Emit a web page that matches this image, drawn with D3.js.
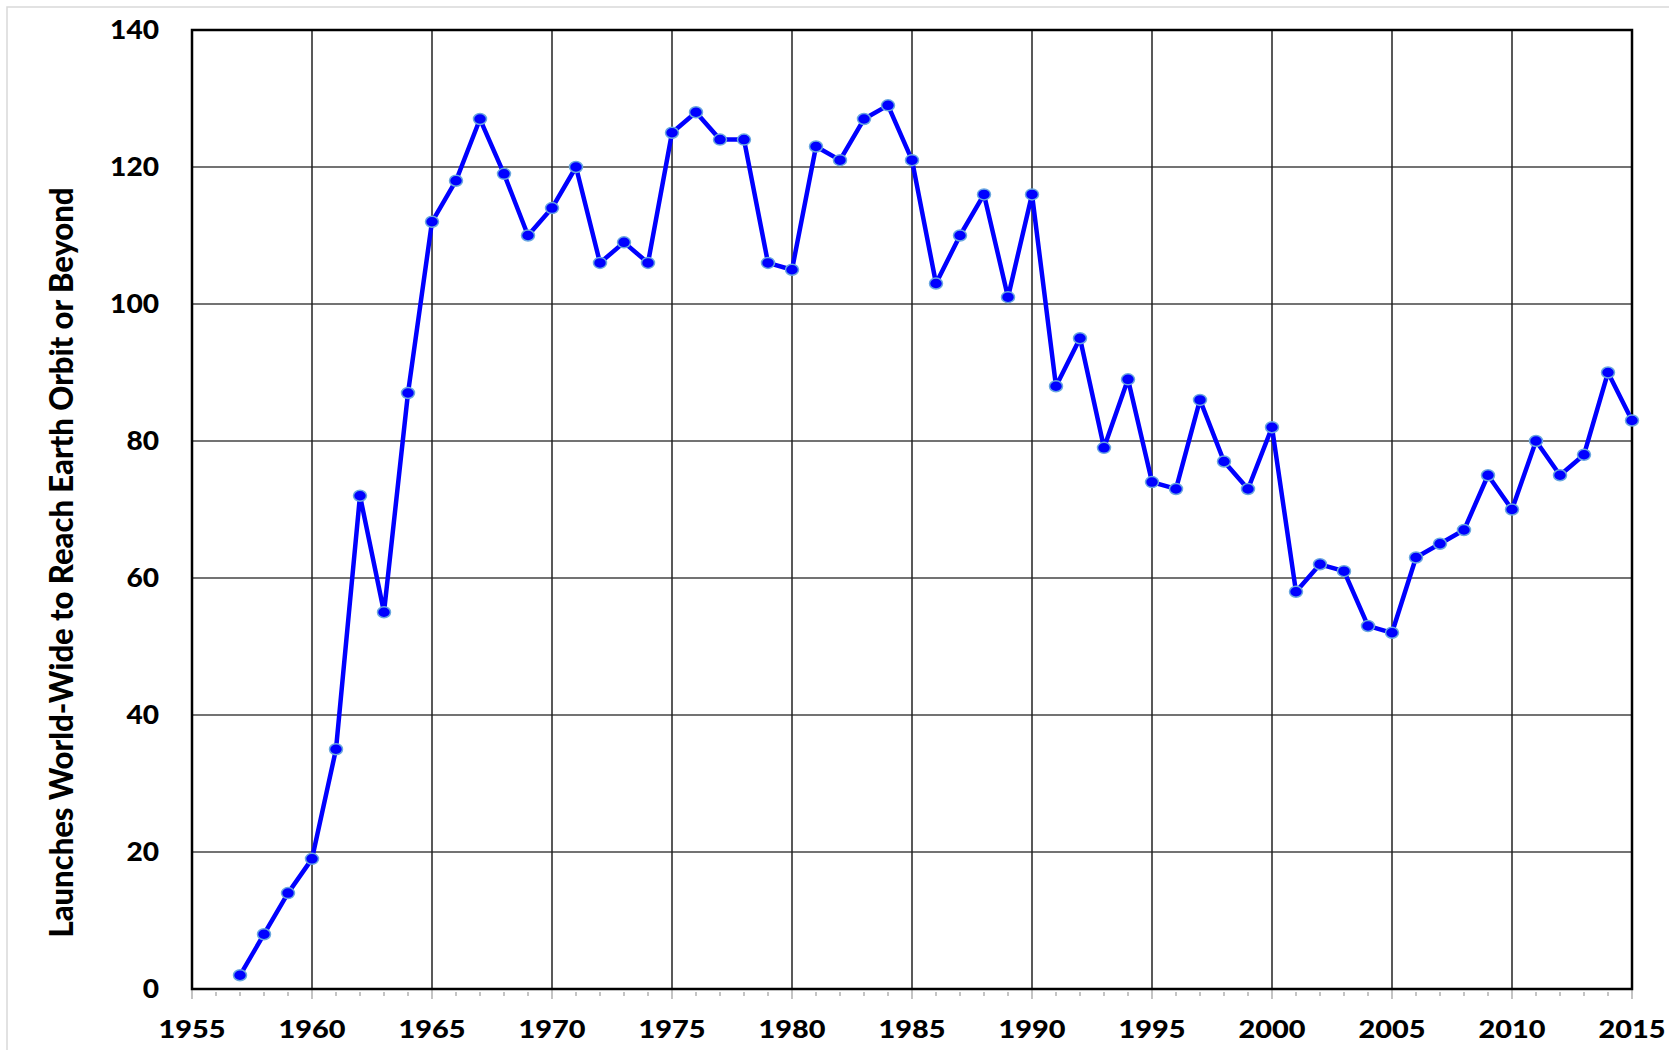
<!DOCTYPE HTML>
<html>
<head>
  <meta charset="utf-8">
  <title>Launches</title>
  <script src="https://d3js.org/d3.v7.min.js"></script>
  <style>
    body { margin: 0; background: #fff; }
    text { font-family: Lato, "Open Sans", sans-serif; font-weight: 900; fill: #000; }
  </style>
</head>
<body>
  <script>
    const years = d3.range(1957, 2016);
    const launches = [
      2, 8, 14, 19, 35, 72, 55, 87, 112, 118,
      127, 119, 110, 114, 120, 106, 109, 106, 125, 128,
      124, 124, 106, 105, 123, 121, 127, 129, 121, 103,
      110, 116, 101, 116, 88, 95, 79, 89, 74, 73,
      86, 77, 73, 82, 58, 62, 61, 53, 52, 63,
      65, 67, 75, 70, 80, 75, 78, 90, 83
    ];
    const xTicks = [1955, 1960, 1965, 1970, 1975, 1980, 1985, 1990, 1995, 2000, 2005, 2010, 2015];
    const yTicks = [0, 20, 40, 60, 80, 100, 120, 140];
    const yTitle = 'Launches World-Wide to Reach Earth Orbit or Beyond';

    const W = 1669, H = 1050;
    const pLeft = 192, pRight = 1632, pTop = 30, pBottom = 989;

    const svg = d3.select('body').append('svg')
      .attr('width', W)
      .attr('height', H);

    // outer chart border
    svg.append('rect')
      .attr('x', 7).attr('y', 7)
      .attr('width', 1700).attr('height', 1100)
      .attr('fill', 'none')
      .attr('stroke', '#d9d9d9')
      .attr('stroke-width', 1.5);

    const x = d3.scaleLinear().domain([1955, 2015]).range([pLeft, pRight]);
    const y = d3.scaleLinear().domain([0, 140]).range([pBottom, pTop]);

    // grid
    svg.append('g').selectAll('line')
      .data(yTicks.slice(1, -1))
      .join('line')
      .attr('x1', pLeft).attr('x2', pRight)
      .attr('y1', d => y(d)).attr('y2', d => y(d))
      .attr('stroke', '#444').attr('stroke-width', 1.5);

    svg.append('g').selectAll('line')
      .data(xTicks.slice(1, -1))
      .join('line')
      .attr('x1', d => x(d)).attr('x2', d => x(d))
      .attr('y1', pTop).attr('y2', pBottom)
      .attr('stroke', '#222').attr('stroke-width', 1.5);

    // small year ticks under the axis
    svg.append('g').selectAll('line')
      .data(d3.range(1955, 2016))
      .join('line')
      .attr('x1', d => x(d)).attr('x2', d => x(d))
      .attr('y1', d => d % 5 === 0 ? pBottom : pBottom + 3)
      .attr('y2', d => d % 5 === 0 ? pBottom + 10 : pBottom + 7)
      .attr('stroke', '#b0b0b0').attr('stroke-width', 1.5);

    // frame
    svg.append('rect')
      .attr('x', pLeft).attr('y', pTop)
      .attr('width', pRight - pLeft).attr('height', pBottom - pTop)
      .attr('fill', 'none')
      .attr('stroke', '#000')
      .attr('stroke-width', 2.5);

    // tick labels
    svg.append('g').selectAll('text')
      .data(xTicks)
      .join('text')
      .attr('x', d => x(d))
      .attr('y', 1038)
      .attr('text-anchor', 'middle')
      .attr('font-size', 25)
      .attr('textLength', 67)
      .attr('lengthAdjust', 'spacingAndGlyphs')
      .text(d => d);

    svg.append('g').selectAll('text')
      .data(yTicks)
      .join('text')
      .attr('x', 159)
      .attr('y', d => y(d))
      .attr('dy', '0.36em')
      .attr('text-anchor', 'end')
      .attr('font-size', 26)
      .attr('textLength', d => String(d).length * 16.3)
      .attr('lengthAdjust', 'spacingAndGlyphs')
      .text(d => d);

    svg.append('text')
      .attr('transform', 'translate(73,' + ((pTop + pBottom) / 2 + 53) + ') rotate(-90)')
      .attr('text-anchor', 'middle')
      .attr('font-size', 33)
      .attr('textLength', 750)
      .attr('lengthAdjust', 'spacingAndGlyphs')
      .text(yTitle);

    // series
    const pts = years.map((yr, i) => [yr, launches[i]]);
    svg.append('path')
      .datum(pts)
      .attr('fill', 'none')
      .attr('stroke', '#0000ff')
      .attr('stroke-width', 4.5)
      .attr('stroke-linejoin', 'round')
      .attr('d', d3.line().x(d => x(d[0])).y(d => y(d[1])));

    svg.append('g').selectAll('ellipse')
      .data(pts)
      .join('ellipse')
      .attr('cx', d => x(d[0]))
      .attr('cy', d => y(d[1]))
      .attr('rx', 6.5).attr('ry', 5.5)
      .attr('fill', '#0000ff')
      .attr('stroke', '#6aa8e0')
      .attr('stroke-width', 1.5);
  </script>
</body>
</html>
